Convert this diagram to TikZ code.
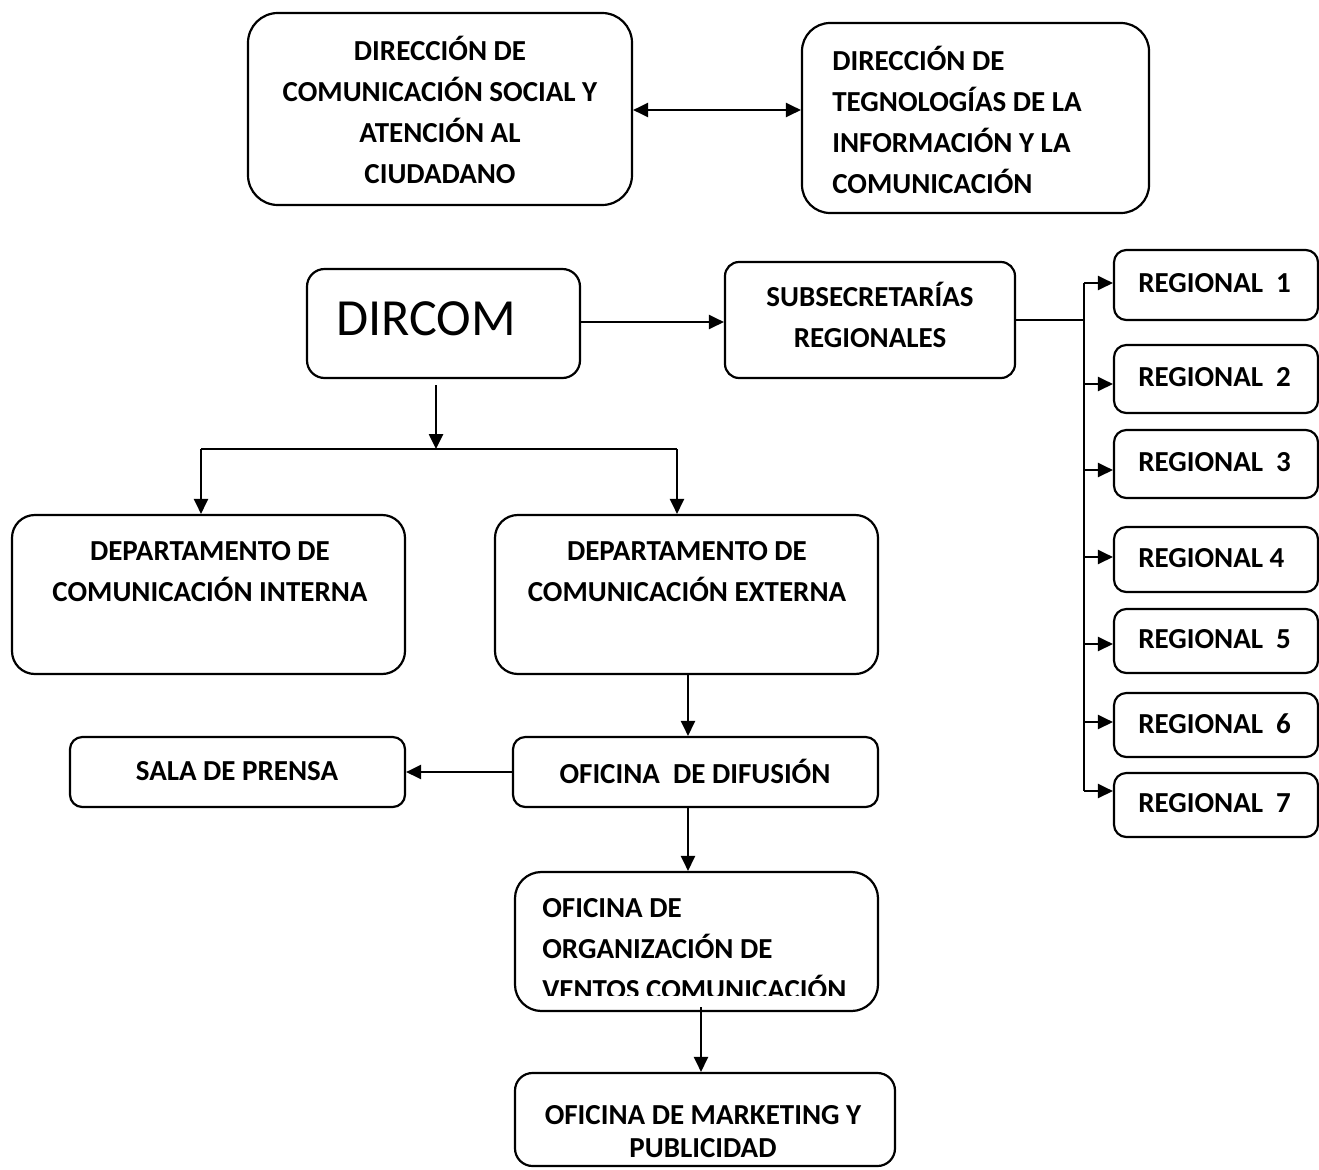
\documentclass[tikz,border=0pt]{standalone}
\usepackage{fontspec}
\setmainfont{Carlito}
\usetikzlibrary{arrows.meta,fit}
\tikzset{
  box/.style={draw, line width=1.25pt, rounded corners=#1, inner sep=0pt},
  box/.default=10pt,
  txt/.style={font=\bfseries\fontsize{16.5}{23.3}\selectfont, inner sep=0pt, align=center},
  conn/.style={line width=1.25pt},
  arr/.style={line width=1.25pt, -{Triangle[length=8.5pt,width=8pt]}},
  dbl/.style={line width=1.25pt, {Triangle[length=8.5pt,width=8pt]}-{Triangle[length=8.5pt,width=8pt]}},
}
\begin{document}
\begin{tikzpicture}[x=0.02cm, y=-0.02cm]
			\useasboundingbox (0,0) rectangle (1319,1170);
			
			%%%%% direcciones %%%%%
			\node[box=17pt, fit={(248,13) (632,205)}] (dcs) {};
			\node[txt] (dcs-t) at (440,110) {DIRECCIÓN DE\\COMUNICACIÓN SOCIAL Y\\ATENCIÓN AL\\CIUDADANO};
			
			\node[box=16pt, fit={(802,23) (1149,213)}] (tic) {};
			\node[txt, align=left, anchor=west] (tic-t) at (832,120) {DIRECCIÓN DE\\TEGNOLOGÍAS DE LA\\INFORMACIÓN Y LA\\COMUNICACIÓN};
			
			\draw[dbl] (dcs.east |- 0,110) -- (tic.west |- 0,110);
			
			%%%%% dircom %%%%%
			\node[box=10pt, fit={(307,269) (580,378)}] (dircom) {};
			\node[font=\fontsize{29.7}{35}\selectfont, inner sep=0pt, anchor=west] (dircom-t) at (336,319) {DIRCOM};
			
			\node[box=8pt, fit={(725,262) (1015,378)}] (sub) {};
			\node[txt] (sub-t) at (870,315) {SUBSECRETARÍAS\\REGIONALES};
			
			\draw[arr] (dircom.east |- 0,322) -- (sub.west |- 0,322);
			
			%%%%% regionales %%%%%
			\draw[conn] (sub.east |- 0,320) -- (1084,320);
			\draw[conn] (1084,283) -- (1084,791);
			\foreach \i/\t/\b/\ya/\lbl in {1/250/320/283/{REGIONAL~~1}, 2/345/413/384/{REGIONAL~~2}, 3/430/498/470/{REGIONAL~~3}, 4/527/592/557/{REGIONAL 4}, 5/609/673/644/{REGIONAL~~5}, 6/693/757/722/{REGIONAL~~6}, 7/773/837/791/{REGIONAL~~7}}{
				\node[box=7pt, fit={(1114,\t) (1318,\b)}] (reg\i) {};
				\node[txt, anchor=west] (reg\i-t) at (1138,{(\t+\b)/2-1.5}) {\lbl};
				\draw[arr] (1084,\ya) -- (reg\i.west |- 0,\ya);
			}
			
			%%%%% departamentos %%%%%
			\coordinate (split) at (436,449);
			\coordinate (bl) at (201,449);
			\coordinate (br) at (677,449);
			\draw[arr] (dircom.south -| split) ++(0,6) -- (split);
			\draw[conn] (bl) -- (br);
			
			\node[box=13pt, fit={(12,515) (405,674)}] (dint) {};
			\node[txt] (dint-t) at (210,572) {DEPARTAMENTO DE\\COMUNICACIÓN INTERNA};
			
			\node[box=13pt, fit={(495,515) (878,674)}] (dext) {};
			\node[txt] (dext-t) at (687,572) {DEPARTAMENTO DE\\COMUNICACIÓN EXTERNA};
			
			\draw[arr] (bl) -- (bl |- dint.north);
			\draw[arr] (br) -- (br |- dext.north);
			
			%%%%% oficinas %%%%%
			\node[box=7pt, fit={(513,737) (878,807)}] (dif) {};
			\node[txt] (dif-t) at (695,771) {OFICINA~~DE DIFUSIÓN};
			
			\node[box=7pt, fit={(70,737) (405,807)}] (sala) {};
			\node[txt] (sala-t) at (237,771) {SALA DE PRENSA};
			
			\draw[arr] (dext.south -| 688,0) -- (dif.north -| 688,0);
			\draw[arr] (dif.west |- 0,772) -- (sala.east |- 0,772);
			
			\node[box=15pt, fit={(515,872) (878,1011)}] (org) {};
			\begin{scope}
				\clip (515,872) rectangle (878,995);
				\node[txt, align=left, anchor=west] (org-t) at (542,949) {OFICINA DE\\ORGANIZACIÓN DE\\VENTOS COMUNICACIÓN};
			\end{scope}
			
			\draw[arr] (dif.south -| 688,0) -- (org.north -| 688,0);
			
			\node[box=10pt, fit={(515,1073) (895,1166)}] (mkt) {};
			\node[txt, font=\bfseries\fontsize{16.5}{18.7}\selectfont] (mkt-t) at (703,1132) {OFICINA DE MARKETING Y\\PUBLICIDAD};
			
			\draw[arr] (701,1007) -- (mkt.north -| 701,0);
\end{tikzpicture}
\end{document}
